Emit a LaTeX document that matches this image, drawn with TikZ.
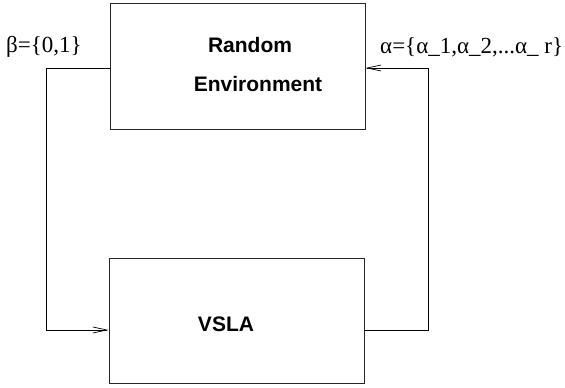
\documentclass[tikz,border=0pt]{standalone}
\usepackage{fontspec}
\setmainfont{Liberation Serif}
\newfontfamily\hvfont{Liberation Sans}
\usetikzlibrary{arrows.meta}
\begin{document}
\begin{tikzpicture}[x=1pt,y=-1pt,
  blockbox/.style={draw=black!85, line width=0.9pt, minimum width=255pt, inner sep=0pt},
  blocktext/.style={font=\hvfont\bfseries\fontsize{21}{24}\selectfont, anchor=base, inner sep=0pt},
  lbl/.style={font=\fontsize{23}{26}\selectfont, anchor=base west, inner sep=0pt},
  conn/.style={line width=0.8pt, -{Straight Barb[length=14pt,width=6pt,line width=0.7pt]}}]
\useasboundingbox[fill=white] (0,0) rectangle (565,388);
\node[blockbox, minimum height=126pt] (top) at (237.5,66.5) {};
\node[blockbox, minimum height=125pt] (bot) at (236.5,320.5) {};
\node[blocktext] (t1) at (250,52) {Random};
\node[blocktext] (t2) at (258,91) {Environment};
\node[blocktext] (t3) at (226,331) {VSLA};
\node[lbl] (beta) at (6,52) {β=\{0,1\}};
\node[lbl] (alpha) at (380,53) {α=\{α\_1,α\_2,...α\_ r\}};
\coordinate (c1) at (46,68);
\coordinate (c2) at (428,330);
\draw[conn] (top.west |- c1) -- (c1) -- (c1 |- c2) -- (bot.west |- c2);
\draw[conn] (bot.east |- c2) -- (c2) -- (c2 |- c1) -- (top.east |- c1);
\end{tikzpicture}
\end{document}
